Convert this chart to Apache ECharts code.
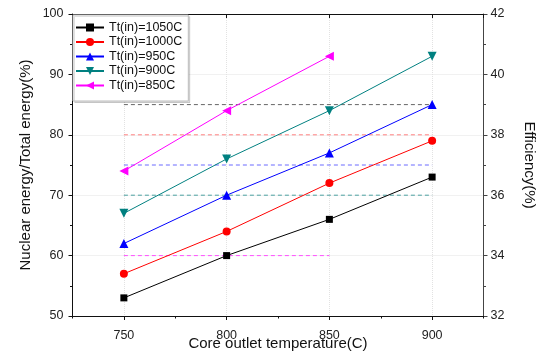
<!DOCTYPE html>
<html>
<head>
<meta charset="utf-8">
<script src="https://cdn.jsdelivr.net/npm/echarts@6/dist/echarts.min.js"></script>
<style>
html,body{margin:0;padding:0;background:#fff;overflow:hidden;}
#c{width:540px;height:354px;}
</style>
</head>
<body>
<div id="c"></div>
<script>
// ---- data ----
const temps = [750, 800, 850, 900];              // core outlet temperature (C)
const names = ['Tt(in)=1050C', 'Tt(in)=1000C', 'Tt(in)=950C', 'Tt(in)=900C', 'Tt(in)=850C'];
const s1050 = [53, 60, 66, 73];
const s1000 = [57, 64, 72, 79];
const s950  = [62, 70, 77, 85];
const s900  = [67, 76, 84, 93];
const s850  = [74, 84, 93];                       // 750..850 only
const effLevels = [39, 38, 37, 36, 34];           // efficiency (%) dashed reference lines
const effFrom   = [750, 750, 750, 750, 750];
const effTo     = [900, 900, 900, 900, 850];

const colors   = ['#000000', '#ff0000', '#0000ff', '#008080', '#ff00ff'];
const dashCols = ['#666666', '#ff8080', '#6a6aff', '#4aa0a0', '#ff50ff'];
const symbols  = ['rect', 'circle', 'triangle', 'triangle', 'triangle'];
const symRot   = [0, 0, 0, 180, 90];
const symSize  = [7, 8, 9, 9, 9];
const values   = [s1050, s1000, s950, s900, s850];

const FONT = 'Liberation Sans, Arial, sans-serif';
const series = [];
for (let i = 0; i < effLevels.length; i++) {
  series.push({
    type: 'line', xAxisIndex: 0, yAxisIndex: 1, silent: true,
    data: [[effFrom[i], effLevels[i]], [effTo[i], effLevels[i]]],
    symbol: 'none',
    lineStyle: { color: dashCols[i], width: 1, type: [4, 3] },
    z: 1
  });
}
for (let i = 0; i < values.length; i++) {
  series.push({
    name: names[i], type: 'line', xAxisIndex: 0, yAxisIndex: 0,
    data: values[i].map((v, k) => [temps[k], v]),
    symbol: symbols[i], symbolSize: symSize[i], symbolRotate: symRot[i],
    itemStyle: { color: colors[i] },
    lineStyle: { color: colors[i], width: 1 },
    z: 3
  });
}

const axisLineStyle = { color: '#111', width: 1 };
const chart = echarts.init(document.getElementById('c'), null, { renderer: 'canvas' });
chart.setOption({
  animation: false,
  textStyle: { fontFamily: FONT },
  grid: { left: 72.5, right: 56.5, top: 14, bottom: 38, containLabel: false, outerBoundsMode: 'none' },
  legend: {
    data: names, orient: 'vertical', left: 73, top: 15,
    itemWidth: 28, itemHeight: 10, itemGap: 1.5,
    padding: [6, 6, 9, 2],
    backgroundColor: '#fff', borderColor: '#bdbdbd', borderWidth: 1,
    shadowColor: 'rgba(0,0,0,0.12)', shadowOffsetX: 1.5, shadowOffsetY: 1.5, shadowBlur: 0.5,
    textStyle: { fontSize: 12.5, color: '#111', fontFamily: FONT }
  },
  xAxis: [
    {
      type: 'value', position: 'bottom', min: 725, max: 925, splitNumber: 4,
      axisLine: { lineStyle: axisLineStyle },
      axisTick: { inside: false, length: 4, lineStyle: axisLineStyle },
      axisLabel: { fontSize: 12.5, color: '#222', margin: 13, showMinLabel: false, showMaxLabel: false,
        formatter: v => (v === 725 || v === 925) ? '' : String(v) },
      splitLine: { show: true, lineStyle: { color: '#e2e2e2', type: 'dotted', width: 1 } },
      name: 'Core outlet temperature(C)', nameLocation: 'middle', nameGap: 20.5, nameMoveOverlap: false,
      nameTextStyle: { fontSize: 15, color: '#111', fontFamily: FONT }
    },
    {
      type: 'value', position: 'bottom', min: 725, max: 925, interval: 50,
      axisLine: { show: false },
      axisTick: { inside: false, length: 2.5, lineStyle: axisLineStyle },
      axisLabel: { show: false }, splitLine: { show: false }
    },
    {
      type: 'value', position: 'top', min: 725, max: 925, splitNumber: 4,
      axisLine: { lineStyle: axisLineStyle },
      axisTick: { inside: true, length: 4, lineStyle: axisLineStyle },
      axisLabel: { show: false }, splitLine: { show: false }
    }
  ],
  yAxis: [
    {
      type: 'value', position: 'left', min: 50, max: 100, interval: 10,
      axisLine: { show: true, lineStyle: axisLineStyle },
      axisTick: { show: true, inside: false, length: 4, lineStyle: axisLineStyle },
      minorTick: { show: true, splitNumber: 2, length: 2.5, lineStyle: axisLineStyle },
      axisLabel: { fontSize: 12.5, color: '#222', margin: 9 },
      splitLine: { show: true, lineStyle: { color: '#e2e2e2', type: 'dotted', width: 1 } },
      name: 'Nuclear energy/Total energy(%)', nameLocation: 'middle', nameGap: 39, nameRotate: 90, nameMoveOverlap: false,
      nameTextStyle: { fontSize: 15, color: '#111', fontFamily: FONT }
    },
    {
      type: 'value', position: 'right', min: 32, max: 42, interval: 2,
      axisLine: { show: true, lineStyle: { color: '#444', width: 1 } },
      axisTick: { show: true, inside: false, length: 4, lineStyle: { color: '#444' } },
      minorTick: { show: true, splitNumber: 2, length: 2.5, lineStyle: { color: '#444' } },
      axisLabel: { fontSize: 12.5, color: '#222', margin: 7 },
      splitLine: { show: false },
      name: 'Efficiency(%)', nameLocation: 'middle', nameGap: 38, nameRotate: -90, nameMoveOverlap: false,
      nameTextStyle: { fontSize: 15, color: '#111', fontFamily: FONT }
    }
  ],
  series: series
});
</script>
</body>
</html>
